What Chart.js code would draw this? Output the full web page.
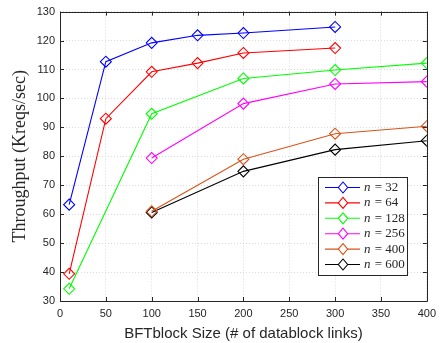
<!DOCTYPE html>
<html>
<head>
<meta charset="utf-8">
<script src="https://cdn.jsdelivr.net/npm/chart.js@4/dist/chart.umd.min.js"></script>
<style>
  html, body { margin: 0; padding: 0; background: #fff; }
  #wrap { width: 442px; height: 343px; }
</style>
</head>
<body>
<div id="wrap"><canvas id="c" width="442" height="343"></canvas></div>
<script>
// values
const seriesLabels = ['n = 32', 'n = 64', 'n = 128', 'n = 256', 'n = 400', 'n = 600'];
const seriesColors = ['#0000ff', '#ff0000', '#00ff00', '#ff00ff', '#d95319', '#000000'];

const n32X = [10, 50, 100, 150, 200, 300];
const n32Y = [63.3, 112.7, 119.2, 121.8, 122.6, 124.7];
const n64X = [10, 50, 100, 150, 200, 300];
const n64Y = [39.4, 93.0, 109.2, 112.2, 115.7, 117.4];
const n128X = [10, 100, 200, 300, 400];
const n128Y = [34.2, 94.7, 106.9, 109.8, 112.2];
const n256X = [100, 200, 300, 400];
const n256Y = [79.4, 98.2, 105.0, 105.8];
const n400X = [100, 200, 300, 400];
const n400Y = [61.0, 79.0, 87.8, 90.4];
const n600X = [100, 200, 300, 400];
const n600Y = [60.6, 74.8, 82.3, 85.4];

const xTicks = [0, 50, 100, 150, 200, 250, 300, 350, 400];
const yTicks = [30, 40, 50, 60, 70, 80, 90, 100, 110, 120, 130];

const allX = [n32X, n64X, n128X, n256X, n400X, n600X];
const allY = [n32Y, n64Y, n128Y, n256Y, n400Y, n600Y];

const datasets = seriesLabels.map((label, i) => ({
  label,
  data: allX[i].map((x, j) => ({ x, y: allY[i][j] })),
  borderColor: seriesColors[i],
  backgroundColor: 'rgba(0,0,0,0)',
  pointBorderColor: seriesColors[i],
  pointBackgroundColor: 'rgba(0,0,0,0)',
  pointStyle: 'rectRot',
  pointRadius: 5.5,
  pointBorderWidth: 1.1,
  borderWidth: 1.1,
  tension: 0
}));

const TEXT = '#262626';

// MATLAB style box, inward ticks and the legend inside the axes
const boxPlugin = {
  id: 'box',
  afterDatasetsDraw(chart) {
    const { ctx, chartArea: a, scales: { x, y } } = chart;
    ctx.save();
    ctx.strokeStyle = TEXT;
    ctx.lineWidth = 1;
    ctx.beginPath();
    ctx.rect(Math.round(a.left) + 0.5, Math.round(a.top) + 0.5,
             Math.round(a.right - a.left), Math.round(a.bottom - a.top));
    ctx.stroke();
    const tl = 4;
    ctx.beginPath();
    xTicks.forEach(v => {
      const px = Math.round(x.getPixelForValue(v)) + 0.5;
      ctx.moveTo(px, a.bottom); ctx.lineTo(px, a.bottom - tl);
      ctx.moveTo(px, a.top); ctx.lineTo(px, a.top + tl);
    });
    yTicks.forEach(v => {
      const py = Math.round(y.getPixelForValue(v)) + 0.5;
      ctx.moveTo(a.left, py); ctx.lineTo(a.left + tl, py);
      ctx.moveTo(a.right, py); ctx.lineTo(a.right - tl, py);
    });
    ctx.stroke();

    // legend
    const lx = 318, ly = 177, lw = 89, lh = 98, step = 15.4;
    ctx.fillStyle = '#fff';
    ctx.fillRect(lx, ly, lw, lh);
    ctx.strokeStyle = TEXT;
    ctx.strokeRect(lx + 0.5, ly + 0.5, lw, lh);
    chart.data.datasets.forEach((ds, i) => {
      const cy = ly + 10.5 + i * step;
      ctx.strokeStyle = ds.borderColor;
      ctx.lineWidth = 1.1;
      ctx.beginPath();
      ctx.moveTo(lx + 7, cy); ctx.lineTo(lx + 42, cy);
      ctx.stroke();
      ctx.beginPath();
      const mx = lx + 25, r = 5.5;
      ctx.moveTo(mx, cy - r); ctx.lineTo(mx + r * 0.85, cy);
      ctx.lineTo(mx, cy + r); ctx.lineTo(mx - r * 0.85, cy);
      ctx.closePath();
      ctx.fillStyle = '#fff';
      ctx.fill();
      ctx.stroke();
      const parts = ds.label.split(' = ');
      ctx.fillStyle = TEXT;
      ctx.textBaseline = 'middle';
      ctx.font = 'italic 13px "Liberation Serif"';
      ctx.fillText('n', lx + 46, cy);
      ctx.font = '13px "Liberation Serif"';
      ctx.fillText(' = ' + parts[1], lx + 46 + ctx.measureText('n').width + 1, cy);
    });
    ctx.restore();
  }
};

new Chart(document.getElementById('c'), {
  type: 'line',
  data: { datasets },
  options: {
    responsive: false,
    devicePixelRatio: 1,
    animation: false,
    layout: { padding: { left: 0, right: 10, top: 7, bottom: 0 } },
    plugins: { legend: { display: false }, tooltip: { enabled: false } },
    scales: {
      x: {
        type: 'linear',
        min: 0, max: 400,
        afterBuildTicks: s => { s.ticks = xTicks.map(v => ({ value: v })); },
        afterFit: s => { s.height = 42; },
        grid: { color: '#d9d9d9', drawTicks: false },
        border: { display: false, dash: [1, 2] },
        ticks: { color: TEXT, font: { family: '"Liberation Sans"', size: 11 }, padding: 6, maxRotation: 0 },
        title: {
          display: true,
          text: 'BFTblock Size (# of datablock links)',
          color: TEXT,
          font: { family: '"Liberation Sans"', size: 15 },
          padding: { top: 2, bottom: 0 }
        }
      },
      y: {
        min: 30, max: 130,
        afterBuildTicks: s => { s.ticks = yTicks.map(v => ({ value: v })); },
        afterFit: s => { s.width = 60; },
        grid: { color: '#d9d9d9', drawTicks: false },
        border: { display: false, dash: [1, 2] },
        ticks: { color: TEXT, font: { family: '"Liberation Sans"', size: 11 }, padding: 5 },
        title: {
          display: true,
          text: 'Throughput (Kreqs/sec)',
          color: TEXT,
          font: { family: '"Liberation Serif"', size: 18 },
          padding: { top: 9, bottom: 0 }
        }
      }
    }
  },
  plugins: [boxPlugin]
});
</script>
</body>
</html>
